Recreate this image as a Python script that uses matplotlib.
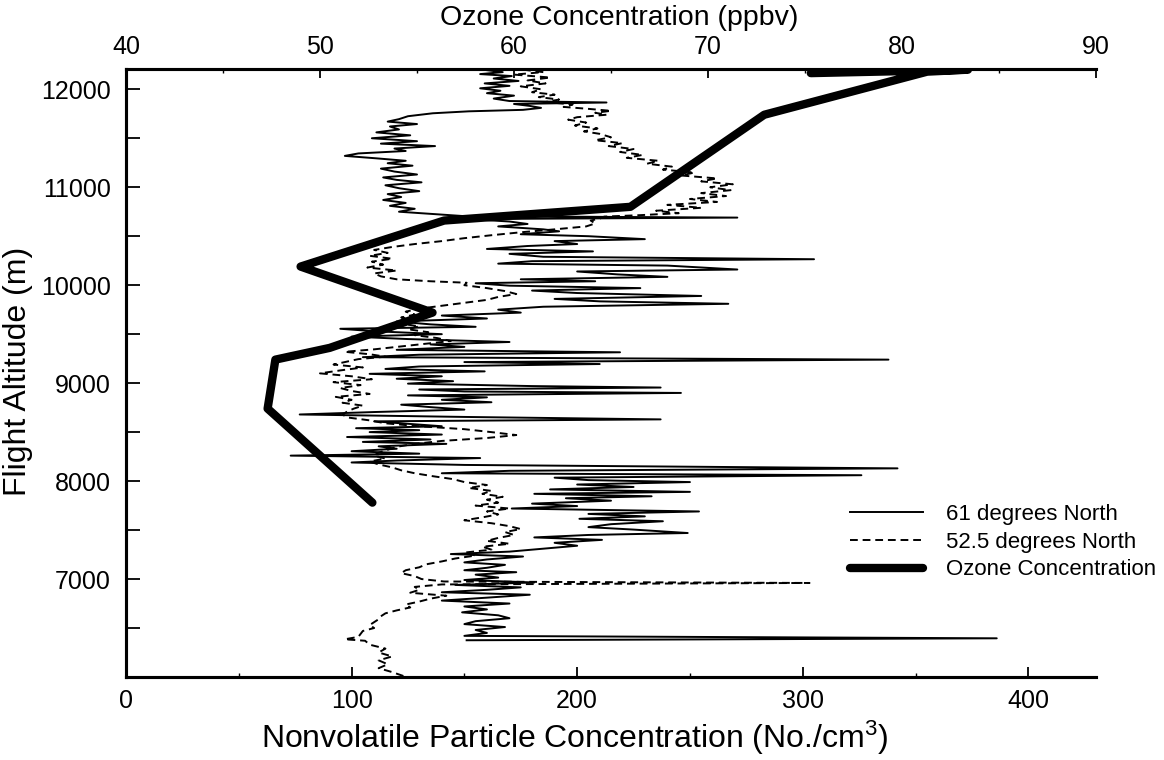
import matplotlib.pyplot as plt
from matplotlib.ticker import MultipleLocator

plt.rcParams['font.family'] = ['Liberation Sans', 'DejaVu Sans']
plt.rcParams['mathtext.default'] = 'regular'

# 61 degrees North profile (altitude m, particles No./cm3)
alt_61 = [12195, 12175, 12155, 12135, 12110, 12085, 12060, 12035, 12010, 11985,
          11960, 11935, 11905, 11880, 11865, 11850, 11830, 11810, 11790, 11775,
          11755, 11725, 11695, 11670, 11645, 11620, 11590, 11560, 11530, 11500,
          11470, 11445, 11420, 11395, 11370, 11345, 11320, 11295, 11270, 11245,
          11220, 11190, 11160, 11130, 11100, 11075, 11050, 11020, 10990, 10960,
          10930, 10900, 10870, 10840, 10810, 10780, 10750, 10725, 10705, 10690,
          10675, 10650, 10625, 10600, 10570, 10550, 10520, 10500, 10470, 10450,
          10420, 10400, 10370, 10345, 10320, 10290, 10265, 10245, 10220, 10200,
          10160, 10140, 10110, 10085, 10060, 10040, 10020, 9995, 9970, 9945,
          9920, 9890, 9860, 9835, 9810, 9780, 9750, 9720, 9690, 9660,
          9630, 9600, 9575, 9555, 9530, 9500, 9475, 9450, 9420, 9395,
          9370, 9340, 9315, 9290, 9265, 9240, 9215, 9195, 9170, 9145,
          9120, 9095, 9070, 9045, 9020, 8995, 8970, 8955, 8935, 8915,
          8900, 8875, 8855, 8830, 8805, 8780, 8755, 8730, 8705, 8680,
          8655, 8630, 8610, 8585, 8560, 8540, 8520, 8500, 8475, 8450,
          8425, 8400, 8380, 8355, 8330, 8305, 8280, 8260, 8235, 8210,
          8190, 8165, 8130, 8105, 8080, 8060, 8035, 8010, 7990, 7965,
          7940, 7915, 7890, 7870, 7845, 7825, 7800, 7770, 7745, 7720,
          7690, 7665, 7640, 7615, 7590, 7560, 7530, 7505, 7470, 7450,
          7425, 7400, 7370, 7340, 7310, 7280, 7255, 7230, 7200, 7170,
          7145, 7115, 7090, 7070, 7045, 7015, 6990, 6965, 6940, 6915,
          6890, 6865, 6840, 6810, 6780, 6750, 6720, 6690, 6660, 6630,
          6600, 6570, 6540, 6510, 6480, 6450, 6420, 6395, 6375]
conc_61 = [160, 167, 157, 171, 163, 174, 159, 170, 157, 166,
           160, 172, 163, 170, 213, 172, 179, 184, 176, 152,
           136, 125, 121, 116, 129, 117, 121, 111, 126, 109,
           129, 113, 137, 119, 124, 103, 97, 111, 124, 116,
           127, 113, 119, 129, 114, 120, 131, 115, 121, 130,
           116, 122, 114, 124, 117, 128, 121, 137, 150, 271,
           152, 170, 178, 165, 185, 192, 175, 205, 230, 190,
           200, 178, 160, 207, 170, 185, 305, 180, 165, 240,
           271, 200, 218, 240, 175, 208, 155, 170, 228, 180,
           200, 255, 190, 210, 267, 185, 165, 175, 140, 160,
           120, 135, 155, 95, 110, 140, 100, 125, 170, 135,
           150, 120, 219, 130, 105, 338, 150, 210, 130, 115,
           159, 108, 140, 120, 145, 125, 180, 237, 130, 150,
           246, 125, 160, 140, 162, 122, 135, 150, 110, 77,
           150, 237, 110, 125, 140, 102, 130, 108, 140, 98,
           135, 105, 142, 112, 120, 100, 130, 73, 157, 120,
           100, 150, 342, 170, 140, 326, 190, 205, 250, 200,
           225, 188, 250, 181, 233, 195, 215, 180, 200, 171,
           254, 205, 230, 201, 238, 215, 205, 225, 249, 205,
           181, 211, 190, 200, 185, 170, 144, 176, 160, 150,
           168, 160, 150, 173, 155, 165, 150, 181, 146, 175,
           160, 140, 179, 160, 140, 170, 150, 160, 149, 165,
           170, 155, 150, 168, 155, 160, 150, 386, 151]

# 52.5 degrees North profile
alt_52 = [12200, 12175, 12150, 12120, 12090, 12060, 12030, 12000, 11970, 11945,
          11920, 11895, 11870, 11845, 11820, 11800, 11780, 11760, 11740, 11715,
          11690, 11660, 11630, 11600, 11570, 11545, 11510, 11480, 11450, 11420,
          11390, 11360, 11330, 11300, 11270, 11240, 11210, 11180, 11150, 11120,
          11090, 11060, 11030, 11000, 10970, 10940, 10910, 10880, 10850, 10820,
          10790, 10760, 10735, 10715, 10700, 10680, 10660, 10630, 10600, 10570,
          10540, 10510, 10480, 10450, 10420, 10390, 10360, 10330, 10300, 10270,
          10240, 10210, 10180, 10150, 10120, 10090, 10060, 10040, 10025, 10000,
          9970, 9940, 9910, 9880, 9850, 9820, 9790, 9760, 9730, 9700,
          9670, 9640, 9610, 9580, 9550, 9520, 9490, 9460, 9430, 9400,
          9370, 9345, 9320, 9295, 9270, 9245, 9220, 9190, 9160, 9130,
          9100, 9070, 9040, 9010, 8980, 8950, 8920, 8890, 8860, 8830,
          8800, 8770, 8740, 8710, 8680, 8650, 8620, 8590, 8560, 8530,
          8500, 8470, 8440, 8410, 8380, 8350, 8320, 8290, 8260, 8230,
          8200, 8170, 8140, 8110, 8080, 8050, 8020, 7990, 7960, 7930,
          7900, 7870, 7840, 7810, 7780, 7750, 7720, 7690, 7660, 7630,
          7600, 7570, 7540, 7510, 7480, 7450, 7420, 7390, 7360, 7330,
          7300, 7270, 7240, 7210, 7180, 7150, 7120, 7090, 7060, 7030,
          7000, 6975, 6960, 6945, 6920, 6890, 6860, 6830, 6800, 6770,
          6740, 6710, 6680, 6650, 6620, 6590, 6560, 6530, 6500, 6470,
          6440, 6410, 6385, 6370, 6330, 6290, 6250, 6210, 6170, 6130,
          6090, 6050, 6010]
conc_52 = [176, 185, 172, 188, 178, 186, 175, 184, 180, 190,
           183, 192, 186, 198, 194, 205, 215, 208, 213, 200,
           196, 204, 199, 209, 203, 210, 215, 208, 220, 214,
           225, 219, 229, 222, 236, 231, 242, 238, 252, 246,
           262, 255, 269, 259, 268, 255, 266, 250, 262, 240,
           255, 235, 245, 228, 212, 210, 206, 208, 204, 190,
           175, 162, 150, 140, 128, 118, 110, 116, 108, 118,
           109, 114, 107, 120, 110, 113, 120, 135, 151, 150,
           160, 168, 173, 165, 160, 150, 140, 130, 124, 128,
           122, 127, 121, 130, 125, 134, 128, 138, 144, 132,
           120, 110, 97, 108, 115, 103, 98, 92, 105, 95,
           86, 100, 109, 92, 104, 95, 100, 108, 93, 100,
           96, 105, 101, 98, 96, 98, 108, 115, 130, 150,
           162, 173, 160, 140, 128, 120, 116, 112, 110, 115,
           108, 112, 118, 122, 128, 136, 145, 150, 160, 152,
           162, 158, 167, 160, 165, 155, 170, 160, 165, 158,
           150, 162, 170, 175, 168, 172, 165, 160, 170, 158,
           162, 150, 155, 146, 140, 133, 130, 124, 122, 128,
           131, 141, 303, 140, 128, 130, 126, 142, 135, 130,
           124, 126, 120, 115, 113, 112, 110, 108, 110, 105,
           104, 103, 97, 106, 108, 115, 112, 118, 112, 116,
           112, 118, 123]

# ozone profile (top axis)
ozone_alt = [7780, 8740, 9240, 9360, 9720, 10190, 10660, 10800, 11740, 12180, 12200, 12165]
ozone_ppbv = [52.7, 47.3, 47.7, 50.5, 55.8, 49.0, 56.4, 66.0, 72.9, 81.3, 83.4, 75.3]

fig = plt.figure(figsize=(11.64, 7.6), dpi=100)
ax = fig.add_axes([126 / 1164, 1 - 677 / 760, 970 / 1164, 608 / 760])

l1, = ax.plot(conc_61, alt_61, color='black', lw=1.4, label='61 degrees North')
l2, = ax.plot(conc_52, alt_52, color='black', lw=1.4, ls=(0, (4, 2.5)),
              label='52.5 degrees North')
ax.set_xlim(0, 430)
ax.set_ylim(6000, 12207)

ax.xaxis.set_major_locator(MultipleLocator(100))
ax.xaxis.set_minor_locator(MultipleLocator(50))
ax.set_yticks(range(7000, 12001, 1000))
ax.set_yticks(range(6500, 12001, 1000), minor=True)
ax.tick_params(which='both', direction='in', top=False, right=False)
ax.tick_params(axis='x', which='major', length=7, width=1.3, labelsize=18, pad=9)
ax.tick_params(axis='x', which='minor', length=3, width=1)
ax.tick_params(axis='y', which='both', length=10, width=1.3, labelsize=18, pad=11)

ax2 = ax.twiny()
l3, = ax2.plot(ozone_ppbv, ozone_alt, color='black', lw=6,
               solid_capstyle='round', solid_joinstyle='round',
               label='Ozone Concentration')
ax2.set_xlim(40, 90)
ax2.xaxis.set_major_locator(MultipleLocator(10))
ax2.xaxis.set_minor_locator(MultipleLocator(5))
ax2.tick_params(axis='x', which='major', direction='in', length=6.5, width=1.3,
                labelsize=18, pad=7)
ax2.tick_params(axis='x', which='minor', direction='in', length=3, width=1)

for a in (ax, ax2):
    a.spines['right'].set_visible(False)
    for s in ('left', 'bottom', 'top'):
        a.spines[s].set_linewidth(2.2)

fig.text(575 / 1164, 1 - 738 / 760, 'Nonvolatile Particle Concentration (No./cm$^{3}$)',
         ha='center', va='center', fontsize=23)
fig.text(619 / 1164, 1 - 18 / 760, 'Ozone Concentration (ppbv)',
         ha='center', va='center', fontsize=20.5)
fig.text(18 / 1164, 1 - 371 / 760, 'Flight Altitude (m)', rotation=90,
         ha='center', va='center', fontsize=23)

fig.legend(handles=[l1, l2, l3], loc='upper left',
           bbox_to_anchor=(850 / 1164, 1 - 504 / 760), frameon=False,
           fontsize=16, handlelength=3.3, handletextpad=1.0, labelspacing=0.3,
           borderpad=0, borderaxespad=0)

fig.savefig('out.png', dpi=100)
